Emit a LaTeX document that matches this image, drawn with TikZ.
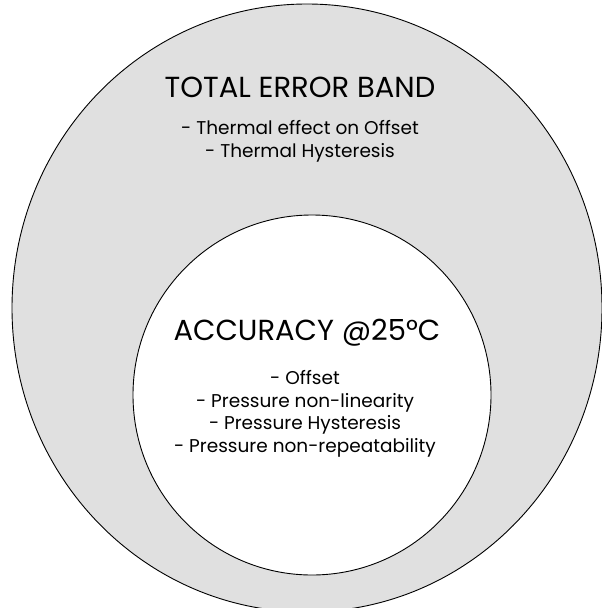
\documentclass[tikz,border=0pt]{standalone}
\usepackage{fontspec}
\setmainfont{Poppins}
\usepackage{xcolor}
\definecolor{bandgray}{HTML}{E0E0E0}
\usetikzlibrary{shapes.geometric}

\begin{document}
\begin{tikzpicture}[x=1pt, y=-1pt,
  zone/.style={draw=black, line width=0.9pt, ellipse, inner sep=0pt},
  head/.style={anchor=base, font=\fontsize{29}{33}\selectfont},
  items/.style={anchor=base, align=center, font=\fontsize{18.5}{23}\selectfont}
]
\useasboundingbox[fill=white] (0,0) rectangle (602,608);

% the two zones
\node[zone, fill=bandgray, minimum width=590pt, minimum height=608pt] (band) at (307,308) {};
\node[zone, fill=white, minimum width=358pt, minimum height=360pt] (acc) at (312,395) {};

% outer band texts
\node[head] (bandtitle) at (300,97) {TOTAL ERROR BAND};
\node[items] (banditems) at (300,157) {- Thermal effect on Offset\\- Thermal Hysteresis};

% inner zone texts
\node[head] (acctitle) at (307,340) {ACCURACY @25°C};
\node[items, font=\fontsize{18.5}{22.5}\selectfont] (accitems) at (305,452) {- Offset\\- Pressure non-linearity\\- Pressure Hysteresis\\- Pressure non-repeatability};
\end{tikzpicture}
\end{document}
